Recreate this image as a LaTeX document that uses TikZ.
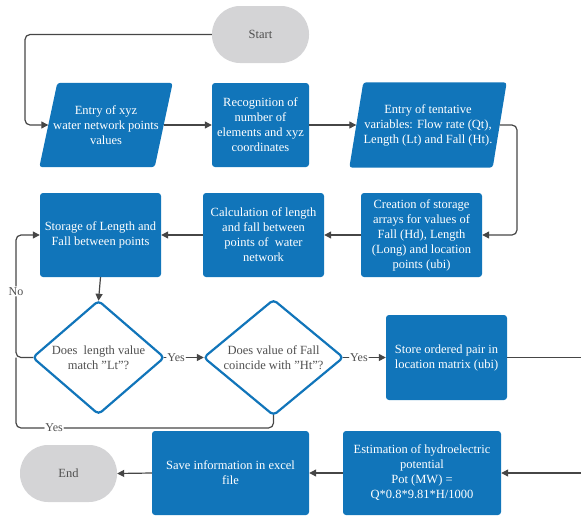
\documentclass[tikz,border=0pt]{standalone}
\usepackage{fontspec}
\setmainfont{Liberation Serif}[Ligatures=ResetAll]
\usetikzlibrary{arrows.meta,backgrounds,calc}
\definecolor{fblue}{RGB}{17,117,186}
\definecolor{pillgray}{RGB}{212,212,214}
\definecolor{linegray}{RGB}{70,70,70}
\definecolor{textgray}{RGB}{80,80,80}
\begin{document}
\begin{tikzpicture}[x=1pt,y=-1pt,
 txt/.style={font=\fontsize{12.5}{15}\selectfont, align=center},
 procbox/.style={txt, rectangle, rounded corners=3pt, fill=fblue, text=white, inner sep=0pt},
 pill/.style={txt, rectangle, rounded corners=28pt, fill=pillgray, text=textgray, minimum width=97pt, minimum height=57pt},
 para/.style={txt, text=white, inner sep=0pt},
 decis/.style={txt, text=textgray, inner sep=0pt},
 conn/.style={draw=linegray, line width=1.2pt, rounded corners=5pt},
 arr/.style={conn, -{Triangle[length=7pt,width=7pt]}},
 lbl/.style={font=\fontsize{12}{14}\selectfont, fill=white, inner sep=1pt, text=textgray}
]
\useasboundingbox (0,0) rectangle (581,517);

\node[pill] (start) at (260.5,34.5) {Start};
\node[para, minimum width=115pt, minimum height=84pt] (p1) at (106,125) {Entry of xyz\\water network points\\values};
\node[procbox, minimum width=97pt, minimum height=84pt] (rec) at (260.5,125) {Recognition of\\number of\\elements and xyz\\coordinates};
\node[para, minimum width=143pt, minimum height=85pt] (p3) at (428,125) {Entry of tentative\\variables: Flow rate (Qt),\\Length (Lt) and Fall (Ht).};
\node[procbox, minimum width=121pt, minimum height=84pt] (cre) at (421.5,235) {Creation of storage\\arrays for values of\\Fall (Hd), Length\\(Long) and location\\points (ubi)};
\node[procbox, minimum width=121pt, minimum height=84pt] (calc) at (263.5,235) {Calculation of length\\and fall between\\points of~ water\\network};
\node[procbox, minimum width=121pt, minimum height=84pt] (sto) at (100.5,235) {Storage of Length and\\Fall between points};
\node[decis, minimum width=131pt, minimum height=113pt] (d1) at (98.5,357.5) {Does~ length value\\match "Lt"?};
\node[decis, minimum width=139pt, minimum height=115pt] (d2) at (273.5,357.5) {Does value of Fall\\coincide with "Ht"?};
\node[procbox, minimum width=121pt, minimum height=85pt] (store) at (446.5,357.5) {Store ordered pair in\\location matrix (ubi)};
\node[procbox, minimum width=158pt, minimum height=84pt] (est) at (422,473) {Estimation of hydroelectric\\potential\\Pot (MW) =\\Q*0.8*9.81*H/1000};
\node[procbox, minimum width=157pt, minimum height=84pt] (save) at (230.5,473) {Save information in excel\\file};
\node[pill] (end) at (68.5,473.5) {End};

\begin{scope}[on background layer]
\fill[fblue, rounded corners=3pt] ($(p1.north west)+(9,0)$) -- ($(p1.north east)+(9,0)$) -- ($(p1.south east)+(-9,0)$) -- ($(p1.south west)+(-9,0)$) -- cycle;
\fill[fblue, rounded corners=3pt] ($(p3.north west)+(7,0)$) -- ($(p3.north east)+(7,0)$) -- ($(p3.south east)+(-7,0)$) -- ($(p3.south west)+(-7,0)$) -- cycle;
\draw[fblue, line width=2.2pt, fill=white, rounded corners=4pt] (d1.north) -- (d1.east) -- (d1.south) -- (d1.west) -- cycle;
\draw[fblue, line width=2.2pt, fill=white, rounded corners=4pt] (d2.north) -- (d2.east) -- (d2.south) -- (d2.west) -- cycle;
\end{scope}

\coordinate (c1) at (25,125);
\coordinate (c2) at (517,125);
\coordinate (cL) at (16,357.5);
\coordinate (cB) at (16,428);
\coordinate (cR1) at (581,357.5);
\coordinate (cR2) at (581,473);

\draw[arr] (start.west) -| (c1) -- (p1.west);
\draw[arr] (p1.east) -- (rec.west);
\draw[arr] (rec.east) -- (p3.west);
\draw[arr] (p3.east) -- (c2) |- (cre.east);
\draw[arr] (cre.west) -- (calc.east);
\draw[arr] (calc.west) -- (sto.east);
\draw[arr] (sto.south) -- (d1.north);
\draw[arr] (d1.east) -- node[lbl, pos=0.3] {Yes} (d2.west);
\draw[arr] (d2.east) -- node[lbl, pos=0.37] {Yes} (store.west);
\draw[arr] (d1.west) -- (cL) |- node[lbl, pos=0.27] {No} (sto.west);
\draw[conn] (d2.south) |- node[lbl, pos=0.926] {Yes} (cB) -- (cL);
\draw[conn] (store.east) -- (cR1);
\draw[arr] (cR2) -- (est.east);
\draw[arr] (est.west) -- (save.east);
\draw[arr] (save.west) -- (end.east);
\end{tikzpicture}
\end{document}
